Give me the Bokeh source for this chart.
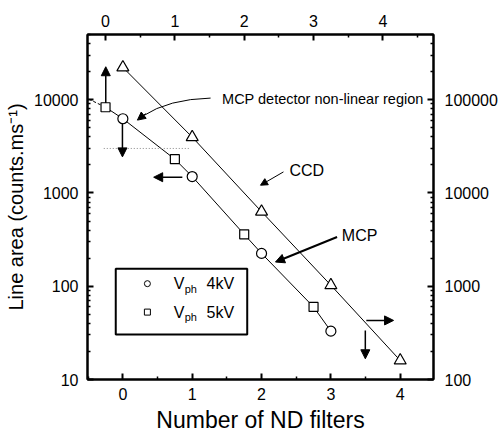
import numpy as np
from bokeh.plotting import figure
from bokeh.models import (Range1d, LinearAxis, LogAxis, LogScale, FixedTicker,
                          Arrow, NormalHead, Label, BoxAnnotation)
from bokeh.embed import file_html
from bokeh.resources import INLINE

# ---------------- data ----------------
circle_filters = [0, 1, 2, 3]            # V_ph 4kV  (bottom x-axis, left y-axis)
circle_area = [6250, 1500, 225, 33]
square_filters = [0, 1, 2, 3]            # V_ph 5kV  (top x-axis, left y-axis)
square_area = [8300, 2300, 360, 60]
ccd_filters = [0, 1, 2, 3, 4]            # CCD       (bottom x-axis, right y-axis)
ccd_area = [222000, 39700, 6300, 1025, 160]
nonlinear_threshold = 3000
x_ticks = [0, 1, 2, 3, 4]
left_ticks = [10, 100, 1000, 10000]
right_ticks = [100, 1000, 10000, 100000]
legend_labels = ["4kV", "5kV"]

# ---------------- layout ----------------
FONT = "Liberation Sans"
TOP_OFFSET = 0.25
XB = (-0.51, 4.48)
YL = (10, 50000)
FR_L, FR_R, FR_T, FR_B = 86.7, 433.3, 34.5, 379.0

def bx(px):
    return XB[0] + (px - FR_L) / (FR_R - FR_L) * (XB[1] - XB[0])

def ly(py):
    a, b = np.log10(YL[0]), np.log10(YL[1])
    return 10 ** (a + (FR_B - py) / (FR_B - FR_T) * (b - a))

p = figure(width=500, height=438, x_range=Range1d(*XB), y_range=Range1d(*YL),
           y_axis_type="log", output_backend="svg", toolbar_location=None,
           min_border_left=87, min_border_right=67, min_border_top=34,
           min_border_bottom=59)
p.grid.visible = False
p.outline_line_color = "black"
p.outline_line_width = 2
p.background_fill_color = "white"
p.border_fill_color = "white"

p.extra_x_ranges = {"top": Range1d(XB[0] + TOP_OFFSET, XB[1] + TOP_OFFSET)}
p.extra_y_ranges = {"right": Range1d(YL[0] * 10, YL[1] * 10)}
p.extra_y_scales = {"right": LogScale()}

x_minor = [v + 0.5 for v in range(-1, 5)]
def log_minor(decades):
    return [m * d for d in decades for m in range(2, 10)]

bottom_axis = p.below[0]
left_axis = p.left[0]
top_axis = LinearAxis(x_range_name="top")
right_axis = LogAxis(y_range_name="right")
p.add_layout(top_axis, "above")
p.add_layout(right_axis, "right")

bottom_axis.ticker = FixedTicker(ticks=x_ticks, minor_ticks=x_minor)
top_axis.ticker = FixedTicker(ticks=x_ticks, minor_ticks=x_minor)
left_axis.ticker = FixedTicker(ticks=left_ticks, minor_ticks=log_minor([10, 100, 1000, 10000]))
right_axis.ticker = FixedTicker(ticks=right_ticks, minor_ticks=log_minor([100, 1000, 10000, 100000]))
left_axis.major_label_overrides = {t: str(t) for t in left_ticks}
right_axis.major_label_overrides = {t: str(t) for t in right_ticks}

for ax in [bottom_axis, top_axis, left_axis, right_axis]:
    ax.axis_line_width = 2
    ax.major_tick_in = 6
    ax.major_tick_out = 0
    ax.minor_tick_in = 3
    ax.minor_tick_out = 0
    ax.major_tick_line_width = 2
    ax.minor_tick_line_width = 1.5
    ax.major_label_text_font = FONT
    ax.major_label_text_font_size = "16px"
    ax.major_label_text_color = "black"
    ax.axis_label_text_font = FONT
    ax.axis_label_text_font_style = "normal"
    ax.axis_label_text_color = "black"

bottom_axis.major_label_standoff = 8
top_axis.major_label_standoff = 8
left_axis.major_label_standoff = 9
right_axis.major_label_standoff = 11

bottom_axis.axis_label = "Number of ND filters"
bottom_axis.axis_label_text_font_size = "23px"
bottom_axis.axis_label_standoff = 4
left_axis.axis_label = "Line area (counts.ms\u207b\u00b9)"
left_axis.axis_label_text_font_size = "20px"
left_axis.axis_label_standoff = 4

# ---------------- marks ----------------
# CCD
p.line(ccd_filters, ccd_area, y_range_name="right", line_color="black", line_width=1)
p.scatter(ccd_filters, ccd_area, y_range_name="right", marker="triangle", size=12,
          fill_color="white", line_color="black", line_width=1.2)

# MCP combined line (squares are on top axis -> shift into bottom-axis coordinates)
mcp_pts = sorted([(f - TOP_OFFSET, a) for f, a in zip(square_filters, square_area)] +
                 [(f, a) for f, a in zip(circle_filters, circle_area)])
p.line([q[0] for q in mcp_pts], [q[1] for q in mcp_pts], line_color="black", line_width=1)
# short dashed stub left of first square
p.segment(x0=[bx(88)], y0=[ly(99)], x1=[square_filters[0] - TOP_OFFSET], y1=[square_area[0]],
          line_color="black", line_width=1, line_dash="3 2")

p.scatter(square_filters, square_area, x_range_name="top", marker="square", size=9,
          fill_color="white", line_color="black", line_width=1.2)
p.scatter(circle_filters, circle_area, marker="circle", size=10,
          fill_color="white", line_color="black", line_width=1.2)

# non-linear threshold dotted line
p.segment(x0=[bx(103)], y0=[nonlinear_threshold], x1=[bx(190)], y1=[nonlinear_threshold],
          line_color="#888888", line_width=1, line_dash="1 2")

# ---------------- arrows ----------------
def arrow(x0, y0, x1, y1, lw=1.5, size=9):
    p.add_layout(Arrow(end=NormalHead(size=size, fill_color="black", line_color="black"),
                       x_start=bx(x0), y_start=ly(y0), x_end=bx(x1), y_end=ly(y1),
                       line_color="black", line_width=lw))

arrow(105, 103, 105, 66.7)          # up -> top axis
arrow(121.7, 123, 121.7, 156.7)     # down -> bottom axis
arrow(181.7, 177, 153, 177)         # left -> left axis
arrow(366, 320, 393.3, 320)         # right -> right axis
arrow(365, 330, 365, 358.3)         # down -> bottom axis
arrow(283, 171.7, 260, 185, lw=1, size=7)        # CCD
arrow(336.7, 236.7, 275, 261.7, lw=2, size=9)    # MCP

# curved arrow from annotation
p.quadratic(x0=[bx(210)], y0=[ly(98)], x1=[bx(142)], y1=[ly(116)],
            cx=[bx(168)], cy=[ly(99)], line_color="black", line_width=1)
arrow(145, 113.5, 136.7, 120, lw=1, size=8)

# ---------------- text ----------------
def label(px, py, text, size):
    p.add_layout(Label(x=bx(px), y=ly(py), text=text, text_font=FONT,
                       text_font_size=size, text_baseline="middle", text_color="black"))

label(221.5, 99, "MCP detector non-linear region", "14.5px")
label(289, 170, "CCD", "16px")
label(341.5, 235, "MCP", "16px")

# ---------------- legend ----------------
p.add_layout(BoxAnnotation(left=bx(115), right=bx(246.7), top=ly(268.3), bottom=ly(334),
                           fill_color="white", fill_alpha=1, line_color="black",
                           line_width=2, line_alpha=1, level="underlay"))
p.scatter([bx(146.7)], [ly(283.3)], marker="circle", size=6, fill_color="white",
          line_color="black", line_width=1)
p.scatter([bx(146.7)], [ly(311.7)], marker="square", size=6, fill_color="white",
          line_color="black", line_width=1)
for py, lab in zip([283.3, 311.7], legend_labels):
    label(173, py, "V", "16px")
    label(184, py + 5, "ph", "11px")
    label(206, py, lab, "16px")

open("out.html", "w").write(file_html(p, INLINE))
